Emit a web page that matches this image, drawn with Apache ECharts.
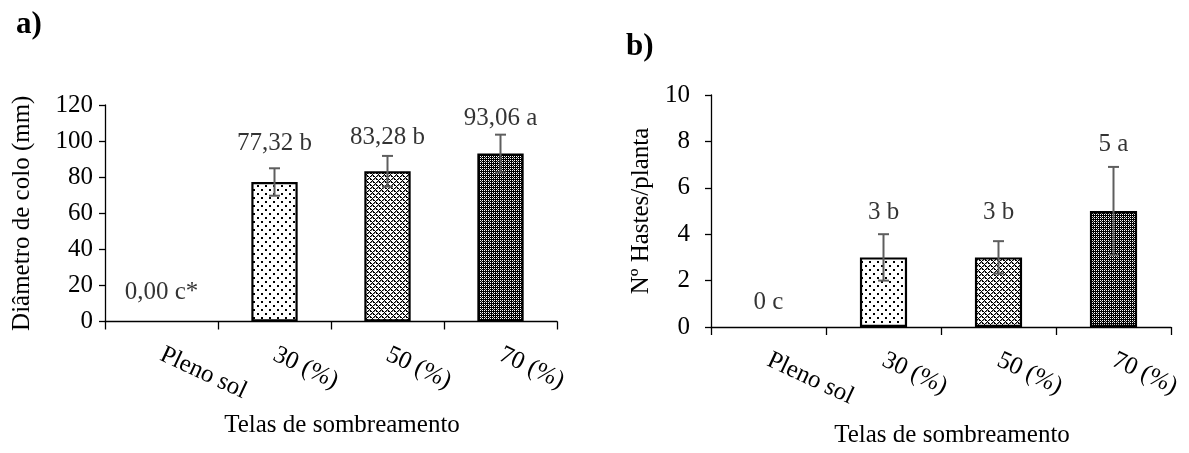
<!DOCTYPE html>
<html>
<head>
<meta charset="utf-8">
<script src="https://cdn.jsdelivr.net/npm/echarts@6/dist/echarts.min.js"></script>
<style>
  html, body { margin: 0; padding: 0; background: #fff; }
  #main { width: 1189px; height: 453px; }
</style>
</head>
<body>
<div id="main"></div>
<script>
// categorias e valores
var categorias = ["Pleno sol", "30 (%)", "50 (%)", "70 (%)"];

// a) diâmetro de colo (mm)
var diametroMedia = [0, 77.32, 83.28, 93.06];
var diametroErro = [0, 7.6, 8.5, 10.5];
var diametroRotulo = ["0,00 c*", "77,32 b", "83,28 b", "93,06 a"];
var diametroRotuloY = [16, 98.5, 102, 112.5];

// b) nº hastes/planta
var hastesMedia = [0, 3, 3, 5];
var hastesErro = [0, 1.0, 0.7, 1.9];
var hastesRotulo = ["0 c", "3 b", "3 b", "5 a"];
var hastesRotuloY = [1.05, 4.95, 4.95, 7.85];

var FONTE = "Liberation Serif";

// texturas das barras (tipo Excel)
function textura(tipo) {
  var c = document.createElement("canvas");
  var n = tipo === 50 ? 6 : (tipo === 30 ? 8 : 4);
  c.width = n; c.height = n;
  var ctx = c.getContext("2d");
  var x, y;
  if (tipo === 30) {
    ctx.fillStyle = "#fff"; ctx.fillRect(0, 0, n, n);
    ctx.fillStyle = "#000";
    ctx.fillRect(1, 1, 2, 2);
    ctx.fillRect(5, 5, 2, 2);
  } else if (tipo === 50) {
    ctx.fillStyle = "#fff"; ctx.fillRect(0, 0, n, n);
    ctx.fillStyle = "#000";
    for (y = 0; y < n; y++) {
      for (x = 0; x < n; x++) {
        if ((x + y) % 6 === 0 || (x - y + 6) % 6 === 0 || (x + y) % 6 === 3 && x % 3 === 1) ctx.fillRect(x, y, 1, 1);
      }
    }
    ctx.fillStyle = "#777";
    for (y = 0; y < n; y++) {
      for (x = 0; x < n; x++) {
        if ((x + y) % 6 === 1 && (x - y + 6) % 6 !== 0 && (x - y + 6) % 6 !== 1) ctx.fillRect(x, y, 1, 1);
      }
    }
  } else {
    ctx.fillStyle = "#000"; ctx.fillRect(0, 0, n, n);
    ctx.fillStyle = "#fff";
    for (y = 0; y < n; y++) {
      for (x = 0; x < n; x++) {
        if (x % 2 === 0 && y % 2 === 0) ctx.fillRect(x, y, 1, 1);
      }
    }
    ctx.fillStyle = "#999";
    ctx.fillRect(1, 1, 1, 1);
  }
  return c;
}
var texturas = [null, textura(30), textura(50), textura(70)];

function dadosBarra(valores) {
  return valores.map(function (v, i) {
    if (!texturas[i]) {
      return { value: v, itemStyle: { color: "#fff", borderWidth: 0 } };
    }
    return { value: v, itemStyle: { color: { image: texturas[i], repeat: "repeat" } } };
  });
}

function dadosErro(media, erro) {
  return media.map(function (m, i) { return [i, m, erro[i]]; });
}

function desenhaErro(params, api) {
  var m = api.value(1), e = api.value(2);
  if (!e) return null;
  var i = api.value(0);
  var topo = api.coord([i, m + e]);
  var base = api.coord([i, m - e]);
  var meia = 5.5;
  var estilo = { stroke: "#5e5e5e", lineWidth: 2 };
  return {
    type: "group",
    children: [
      { type: "line", shape: { x1: topo[0], y1: topo[1], x2: base[0], y2: base[1] }, style: estilo },
      { type: "line", shape: { x1: topo[0] - meia, y1: topo[1], x2: topo[0] + meia, y2: topo[1] }, style: estilo },
      { type: "line", shape: { x1: base[0] - meia, y1: base[1], x2: base[0] + meia, y2: base[1] }, style: estilo }
    ]
  };
}

function dadosRotulo(ys) {
  return ys.map(function (y, i) { return [i, y]; });
}

function eixoX(idx, labelMargin, nameGap) {
  return {
    type: "category",
    gridIndex: idx,
    data: categorias,
    boundaryGap: true,
    axisLine: { lineStyle: { color: "#000", width: 1.3 } },
    axisTick: { show: true, length: 8, lineStyle: { color: "#000", width: 1.3 } },
    axisLabel: {
      rotate: -25, margin: labelMargin, color: "#000",
      fontFamily: FONTE, fontSize: 25, interval: 0
    },
    name: "Telas de sombreamento",
    nameLocation: "middle",
    nameGap: nameGap,
    nameTextStyle: { fontFamily: FONTE, fontSize: 25, color: "#000", padding: [0, 0, 0, 22] }
  };
}

function eixoY(idx, max, interval, nome, labelMargin, nameGap) {
  return {
    type: "value",
    gridIndex: idx,
    min: 0, max: max, interval: interval,
    axisLine: { show: true, lineStyle: { color: "#000", width: 1.3 } },
    axisTick: { show: true, length: 6, lineStyle: { color: "#000", width: 1.3 } },
    splitLine: { show: false },
    axisLabel: { margin: labelMargin, color: "#000", fontFamily: FONTE, fontSize: 25 },
    name: nome,
    nameLocation: "middle",
    nameGap: nameGap,
    nameTextStyle: { fontFamily: FONTE, fontSize: 25, color: "#000" }
  };
}

function serieBarra(idx, media) {
  return {
    type: "bar",
    xAxisIndex: idx, yAxisIndex: idx,
    barWidth: "41%",
    itemStyle: { borderColor: "#000", borderWidth: 2.2 },
    data: dadosBarra(media),
    z: 2
  };
}

function serieErro(idx, media, erro) {
  return {
    type: "custom",
    xAxisIndex: idx, yAxisIndex: idx,
    renderItem: desenhaErro,
    encode: { x: 0, y: 1 },
    data: dadosErro(media, erro),
    z: 5
  };
}

function serieRotulo(idx, ys, textos) {
  return {
    type: "scatter",
    xAxisIndex: idx, yAxisIndex: idx,
    symbolSize: 1,
    itemStyle: { color: "rgba(0,0,0,0)" },
    data: dadosRotulo(ys),
    label: {
      show: true, position: "inside",
      fontFamily: FONTE, fontSize: 25, color: "#000",
      formatter: function (p) { return textos[p.dataIndex]; }
    },
    z: 6
  };
}

var chart = echarts.init(document.getElementById("main"), null, { renderer: "canvas" });
chart.setOption({
  backgroundColor: "#fff",
  animation: false,
  title: [
    { text: "a)", left: 11, top: 4, textStyle: { fontFamily: FONTE, fontSize: 31, fontWeight: "bold", color: "#000" } },
    { text: "b)", left: 621, top: 26, textStyle: { fontFamily: FONTE, fontSize: 31, fontWeight: "bold", color: "#000" } }
  ],
  grid: [
    { left: 105, top: 105, width: 452, height: 216.5 },
    { left: 711, top: 95, width: 460, height: 234 }
  ],
  xAxis: [eixoX(0, 32, 91), eixoX(1, 32, 96)],
  yAxis: [
    eixoY(0, 120, 20, "Diâmetro de colo (mm)", 12, 70),
    eixoY(1, 10, 2, "Nº Hastes/planta", 21, 57)
  ],
  series: [
    serieBarra(0, diametroMedia),
    serieErro(0, diametroMedia, diametroErro),
    serieRotulo(0, diametroRotuloY, diametroRotulo),
    serieBarra(1, hastesMedia),
    serieErro(1, hastesMedia, hastesErro),
    serieRotulo(1, hastesRotuloY, hastesRotulo)
  ]
});

window.onresize = function () {
  chart.resize();
};
</script>
</body>
</html>
